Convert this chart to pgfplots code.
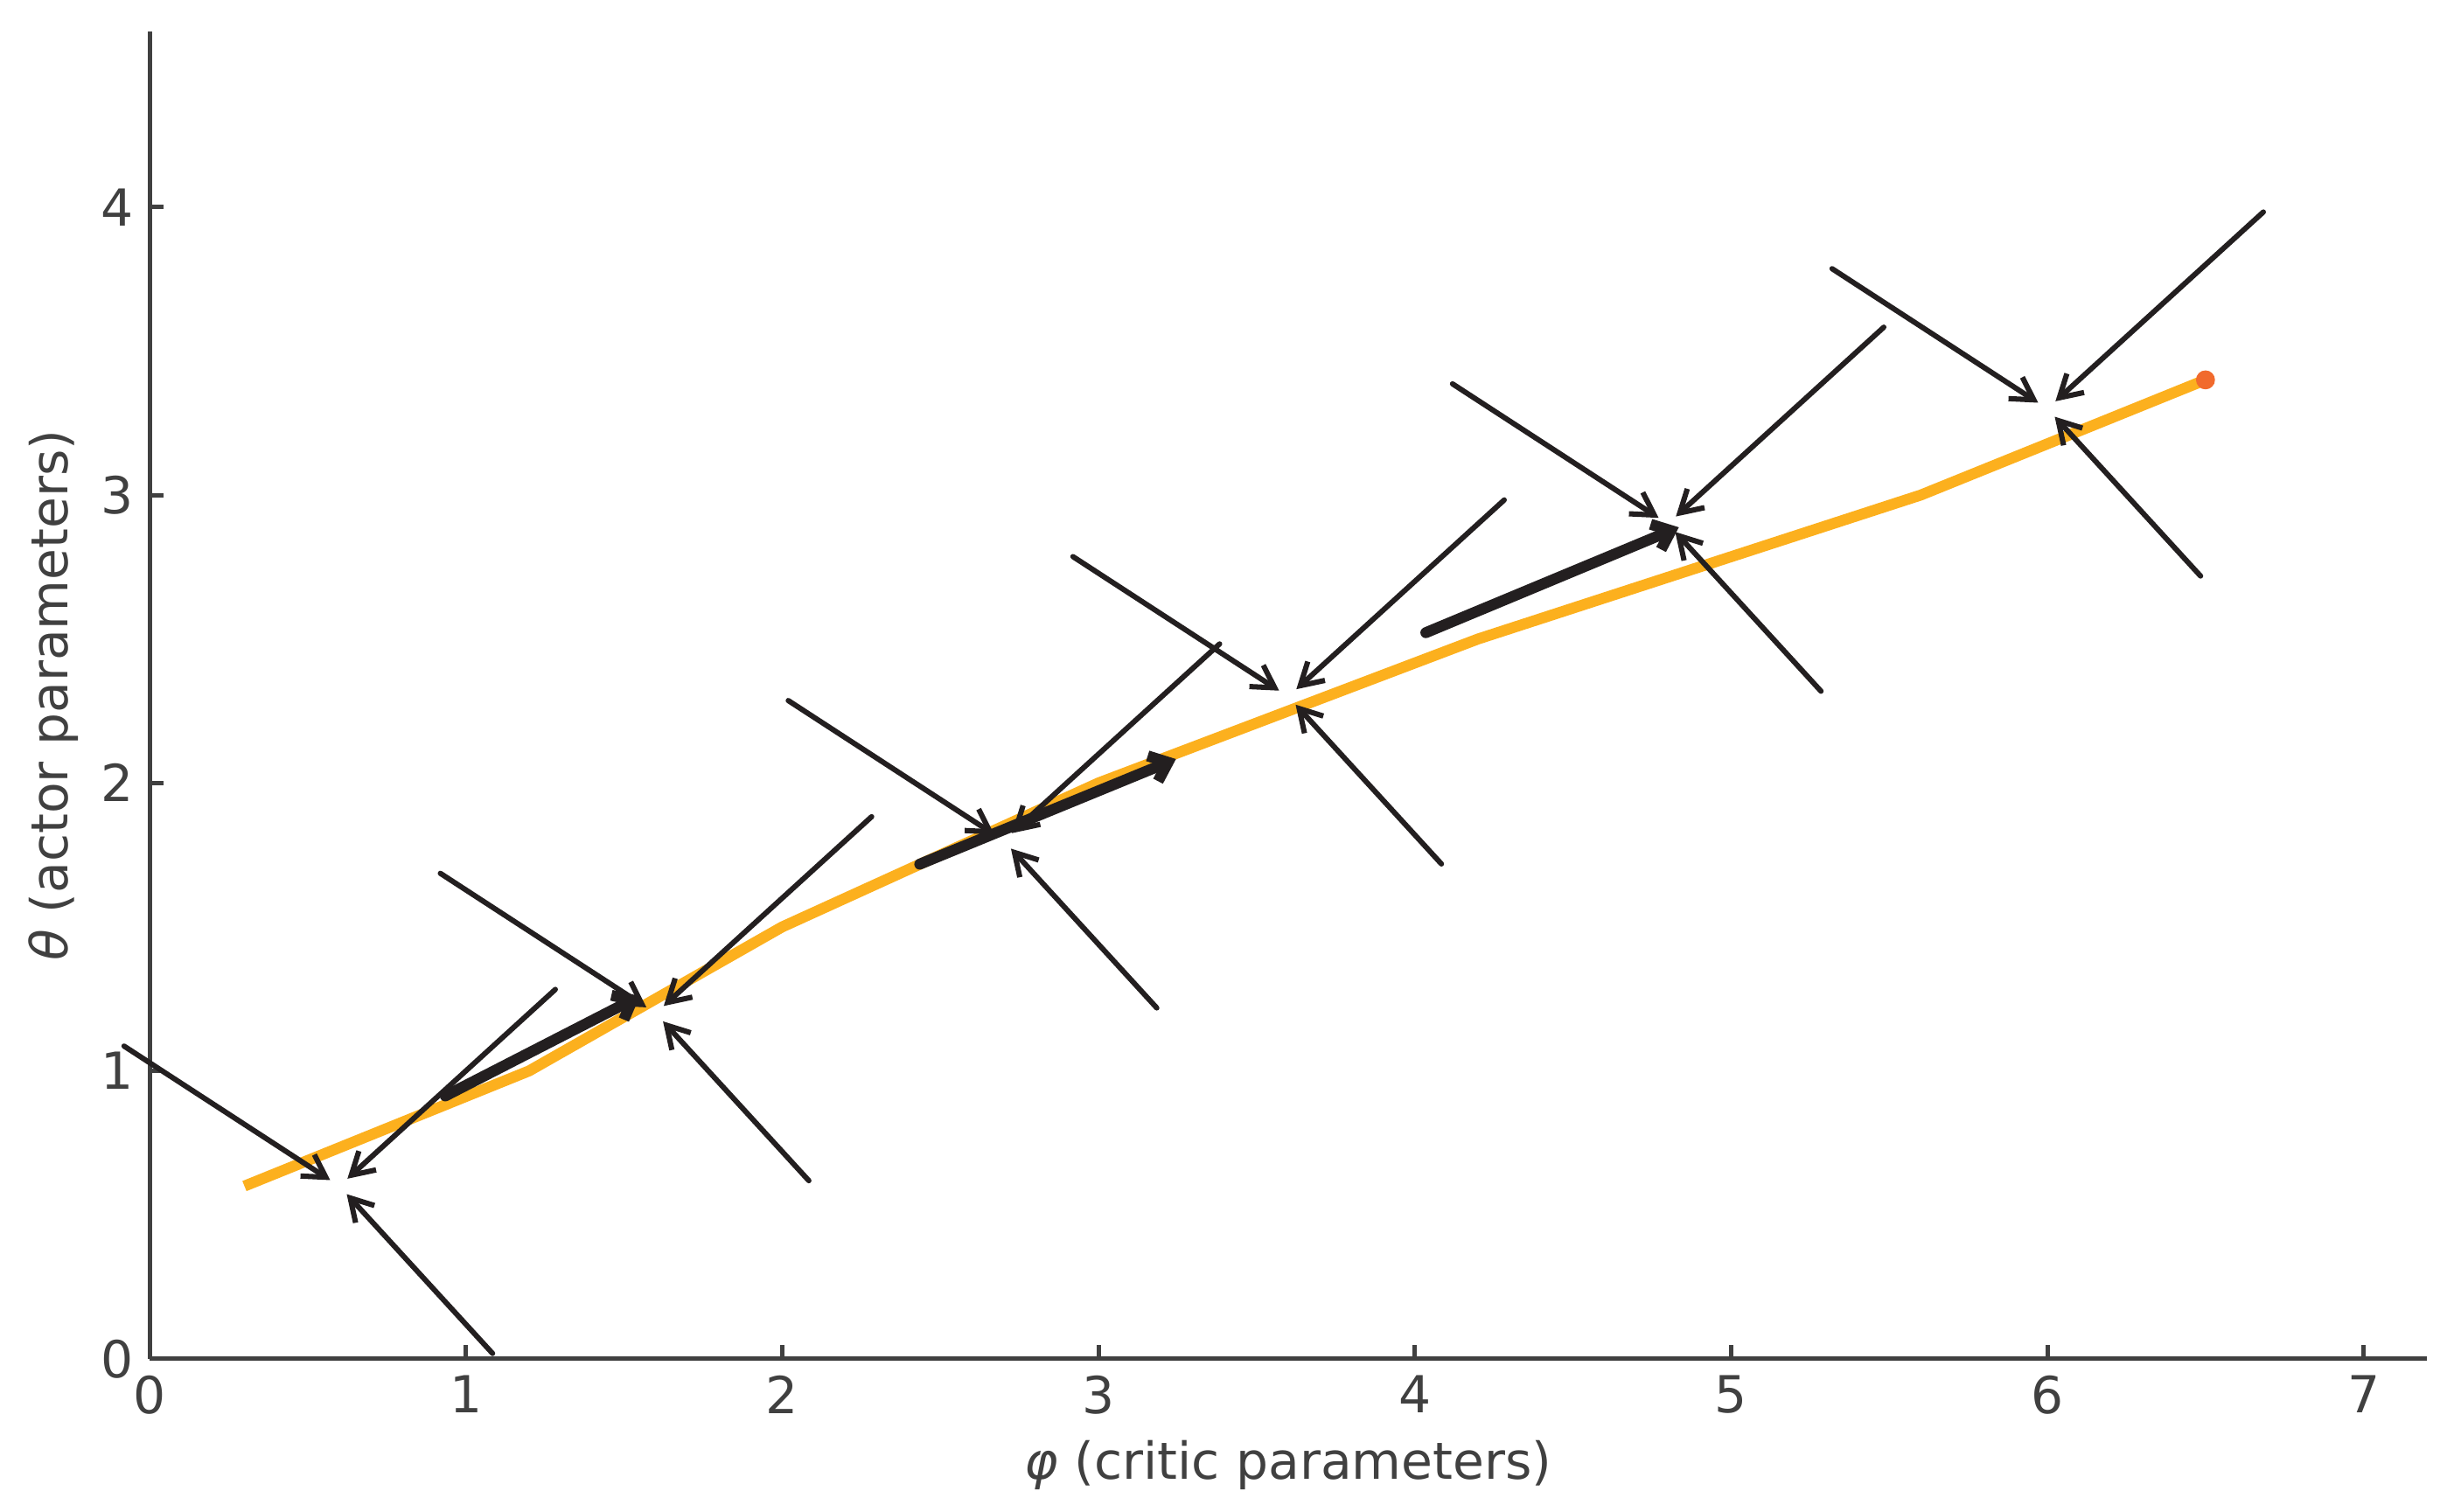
\documentclass[border=0pt]{standalone}
\usepackage{fontspec}
\setmainfont{DejaVu Sans}
\usepackage{pgfplots}
\pgfplotsset{compat=1.18}
\usetikzlibrary{arrows.meta}
\definecolor{axgray}{RGB}{64,64,64}
\definecolor{lineorange}{RGB}{252,176,30}
\definecolor{dotorange}{RGB}{241,106,45}
\definecolor{arrowblack}{RGB}{35,31,32}

\pgfplotstableread{
x     y     u     v
-0.1  1.1   0.7  -0.5
1.3   1.3  -0.7  -0.7
1.1   0.0  -0.5   0.6
0.9   1.7   0.7  -0.5
2.3   1.9  -0.7  -0.7
2.1   0.6  -0.5   0.6
2.0   2.3   0.7  -0.5
3.4   2.5  -0.7  -0.7
3.2   1.2  -0.5   0.6
2.9   2.8   0.7  -0.5
4.3   3.0  -0.7  -0.7
4.1   1.7  -0.5   0.6
4.1   3.4   0.7  -0.5
5.5   3.6  -0.7  -0.7
5.3   2.3  -0.5   0.6
5.3   3.8   0.7  -0.5
6.7   4.0  -0.7  -0.7
6.5   2.7  -0.5   0.6
}\thinarrows

\pgfplotstableread{
x     y     u     v
0.935 0.913 0.615 0.347
2.435 1.718 0.810 0.365
4.035 2.522 0.800 0.366
}\thickarrows

\begin{document}
\begin{tikzpicture}
\begin{axis}[
  name=ax,
  scale only axis,
  width=624.9bp, height=364.25bp,
  xmin=0, xmax=7.2, ymin=0, ymax=4.61,
  axis lines=left,
  axis line style={-, draw=axgray, line width=1.2bp},
  tick align=inside,
  major tick length=3.84bp,
  every tick/.style={draw=axgray, line width=1.2bp},
  xtick={0,...,7}, ytick={0,...,4},
  /pgf/number format/assume math mode=true,
  tick label style={text=axgray, inner sep=0pt, font=\fontsize{14bp}{16.8bp}\selectfont},
  xticklabel style={yshift=-4.4bp},
  yticklabel style={xshift=-4.1bp},
  label style={font=\fontsize{14bp}{16.8bp}\selectfont, text=axgray, inner sep=0pt},
  xlabel={\textit{φ} (critic parameters)},
  ylabel={\textit{θ} (actor parameters)},
  xlabel style={at={(axis description cs:0.5,-0.0905)}, anchor=base},
  ylabel style={at={(axis description cs:-0.05338,0.5)}, anchor=north},
  clip=false,
]
\addplot[lineorange, line width=3bp, line join=round, mark=none]
  coordinates {(0.3,0.6) (1.2,1.0) (2.0,1.5) (3.0,2.0) (4.2,2.5) (5.6,3.0) (6.5,3.4)};
\addplot[only marks, mark=*, mark size=2.4bp, draw=dotorange, fill=dotorange]
  coordinates {(6.5,3.4)};
\addplot[arrowblack, line width=1.45bp, line cap=round,
  quiver={u=\thisrow{u}, v=\thisrow{v}},
  -{Straight Barb[length=6bp, width=7bp]},
  shorten <=2bp, shorten >=3bp] table[x=x, y=y] {\thinarrows};
\addplot[arrowblack, line width=3bp, line cap=round,
  quiver={u=\thisrow{u}, v=\thisrow{v}},
  -{Straight Barb[length=4.5bp, width=7.5bp]}] table[x=x, y=y] {\thickarrows};
\end{axis}
\path ([shift={(-41.04bp,-41.8bp)}]ax.south west) rectangle ([shift={(9.36bp,8.64bp)}]ax.north east);
\end{tikzpicture}
\end{document}
